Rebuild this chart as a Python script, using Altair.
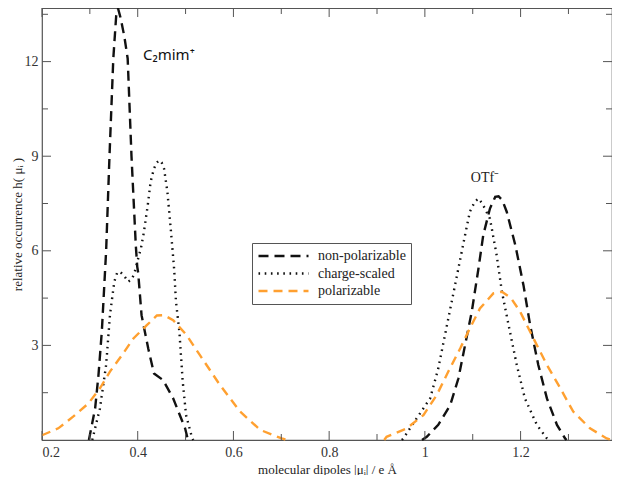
import altair as alt
import pandas as pd

# ---------------- data ----------------
series_names = ["non-polarizable", "charge-scaled", "polarizable"]

np_left_x = [0.298, 0.311, 0.318, 0.325, 0.334, 0.341, 0.349, 0.355, 0.359, 0.364, 0.372, 0.379,
             0.387, 0.396, 0.399, 0.401, 0.408, 0.422, 0.434, 0.453, 0.474, 0.499, 0.505]
np_left_y = [0.0, 1.0, 2.06, 3.44, 6.0, 9.0, 12.1, 13.45, 13.68, 13.4, 12.8, 12.1,
             9.0, 6.17, 5.5, 5.3, 3.96, 2.9, 2.11, 1.9, 1.32, 0.37, 0.0]
np_right_x = [0.994, 1.004, 1.028, 1.053, 1.070, 1.084, 1.098, 1.112, 1.122, 1.136, 1.147, 1.154,
              1.162, 1.171, 1.189, 1.206, 1.220, 1.237, 1.255, 1.276, 1.293, 1.296]
np_right_y = [0.0, 0.1, 0.48, 1.11, 1.95, 3.01, 4.07, 5.44, 6.5, 7.34, 7.71, 7.73,
              7.6, 7.24, 6.18, 4.91, 3.64, 2.38, 1.32, 0.48, 0.05, 0.0]

cs_left_x = [0.305, 0.321, 0.334, 0.342, 0.351, 0.357, 0.363, 0.372, 0.380, 0.388, 0.394, 0.400,
             0.407, 0.413, 0.421, 0.427, 0.434, 0.440, 0.445, 0.450, 0.455, 0.462, 0.469, 0.476,
             0.480, 0.487, 0.494, 0.501, 0.513, 0.516]
cs_left_y = [0.0, 1.0, 2.38, 3.96, 5.02, 5.3, 5.34, 5.2, 5.02, 5.1, 5.34, 5.7,
             6.1, 6.6, 7.45, 8.19, 8.61, 8.8, 8.87, 8.8, 8.61, 7.87, 6.7, 5.44,
             4.38, 3.44, 1.86, 0.79, 0.1, 0.0]
cs_right_x = [0.952, 0.955, 0.983, 1.011, 1.028, 1.042, 1.056, 1.070, 1.084, 1.094, 1.104, 1.112,
              1.120, 1.136, 1.150, 1.161, 1.175, 1.192, 1.209, 1.234, 1.255, 1.258]
cs_right_y = [0.0, 0.05, 0.69, 1.32, 2.27, 3.33, 4.38, 5.44, 6.5, 7.24, 7.55, 7.66,
              7.5, 7.02, 5.86, 4.70, 3.64, 2.38, 1.32, 0.48, 0.05, 0.0]

pol_left_x = [0.2, 0.234, 0.265, 0.297, 0.321, 0.342, 0.367, 0.391, 0.419, 0.440, 0.455, 0.474,
              0.502, 0.530, 0.572, 0.614, 0.656, 0.701, 0.712]
pol_left_y = [0.15, 0.37, 0.74, 1.16, 1.64, 2.17, 2.69, 3.22, 3.64, 3.95, 3.96, 3.80,
              3.33, 2.69, 1.74, 0.90, 0.32, 0.05, 0.0]
pol_right_x = [0.915, 0.92, 0.962, 0.997, 1.025, 1.049, 1.074, 1.094, 1.115, 1.143, 1.161, 1.18,
               1.199, 1.227, 1.255, 1.283, 1.310, 1.345, 1.380, 1.39]
pol_right_y = [0.0, 0.1, 0.37, 0.79, 1.43, 2.17, 2.91, 3.54, 4.17, 4.65, 4.70, 4.5,
               4.07, 3.22, 2.38, 1.64, 0.90, 0.37, 0.05, 0.0]

x_major = [0.2, 0.4, 0.6, 0.8, 1.0, 1.2]
x_minor = [0.3, 0.5, 0.7, 0.9, 1.1, 1.3]
y_major = [3, 6, 9, 12]
y_minor = [1.5, 4.5, 7.5, 10.5, 13.5]

ann1_text = ["C₂mim⁺"]
ann1_x = [0.411]
ann1_y = [12.2]
ann2_text = ["OTf⁻"]
ann2_x = [1.096]
ann2_y = [8.3]

# ---------------- build table ----------------
rows = []
segs = [
    ("non-polarizable", "np_l", np_left_x, np_left_y),
    ("non-polarizable", "np_r", np_right_x, np_right_y),
    ("charge-scaled", "cs_l", cs_left_x, cs_left_y),
    ("charge-scaled", "cs_r", cs_right_x, cs_right_y),
    ("polarizable", "pol_l", pol_left_x, pol_left_y),
    ("polarizable", "pol_r", pol_right_x, pol_right_y),
]
for name, seg, xs_, ys_ in segs:
    for i, (xv, yv) in enumerate(zip(xs_, ys_)):
        rows.append({"series": name, "seg": seg, "x": xv, "y": yv, "i": i})
df = pd.DataFrame(rows)

W, H = 570, 432
XDOM = [0.2, 1.391]
YDOM = [0, 13.7]
FRAME = "#555555"
SERIF = "Liberation Serif"

xs = alt.Scale(domain=XDOM, nice=False, zero=False)
ys = alt.Scale(domain=YDOM, nice=False, zero=False)
x_axis = alt.Axis(values=x_major, title="molecular dipoles |μᵢ| / e Å",
                  labelExpr="datum.value == 1 ? '1' : format(datum.value, '.1f')")
y_axis = alt.Axis(values=y_major, format="d", title="relative occurrence  h( μᵢ )")

lines = alt.Chart(df).mark_line(strokeWidth=2.4, interpolate="linear").encode(
    x=alt.X("x:Q", scale=xs, axis=x_axis),
    y=alt.Y("y:Q", scale=ys, axis=y_axis),
    color=alt.Color("series:N", scale=alt.Scale(domain=series_names,
                                                range=["#111111", "#111111", "#FFA030"]),
                    legend=alt.Legend(title=None)),
    strokeDash=alt.StrokeDash("series:N", scale=alt.Scale(domain=series_names,
                                                          range=[[10, 6], [1.6, 4.6], [9, 6]]),
                              legend=alt.Legend(title=None)),
    detail="seg:N",
    order="i:Q",
)


def tick_df(vals):
    return pd.DataFrame({"x": vals, "y": vals})


def xticks(vals, y0, y1):
    return alt.Chart(tick_df(vals)).mark_rule(color=FRAME, strokeWidth=1).encode(
        x=alt.X("x:Q", scale=xs, axis=x_axis), y=alt.value(y0), y2=alt.value(y1))


def yticks(vals, x0, x1):
    return alt.Chart(tick_df(vals)).mark_rule(color=FRAME, strokeWidth=1).encode(
        y=alt.Y("y:Q", scale=ys, axis=y_axis), x=alt.value(x0), x2=alt.value(x1))


tick_layers = [
    xticks(x_major, H, H - 9), xticks(x_minor, H, H - 6),
    xticks(x_major, 0, 9), xticks(x_minor, 0, 6),
    yticks(y_major, 0, 9), yticks(y_minor, 0, 6),
    yticks(y_major, W, W - 9), yticks(y_minor, W, W - 6),
]

ann1 = alt.Chart(pd.DataFrame({"t": ann1_text, "x": ann1_x, "y": ann1_y})).mark_text(
    font="Noto Sans", fontSize=15, align="left", baseline="middle", color="#111111").encode(
    x=alt.X("x:Q", scale=xs, axis=x_axis), y=alt.Y("y:Q", scale=ys, axis=y_axis), text="t:N")
ann2 = alt.Chart(pd.DataFrame({"t": ann2_text, "x": ann2_x, "y": ann2_y})).mark_text(
    font=SERIF, fontSize=14, align="left", baseline="middle", color="#222222").encode(
    x=alt.X("x:Q", scale=xs, axis=x_axis), y=alt.Y("y:Q", scale=ys, axis=y_axis), text="t:N")

chart = alt.layer(
    lines, *tick_layers, ann1, ann2
).properties(
    width=W, height=H,
    autosize=alt.AutoSizeParams(type="none"),
    padding={"left": 34, "top": 0, "right": 0, "bottom": 35},
).configure_view(
    stroke=FRAME, strokeWidth=1.2
).configure_axis(
    grid=False, ticks=False, domain=False,
    labelFont=SERIF, labelFontSize=14, labelColor="#333333",
    titleFont=SERIF, titleFontSize=13, titleColor="#222222", titleFontWeight="normal",
).configure_axisX(
    labelPadding=5, titlePadding=4,
).configure_axisY(
    labelPadding=4, titlePadding=0,
).configure_legend(
    orient="none", legendX=210, legendY=235,
    padding=5, strokeColor=FRAME, fillColor="white",
    symbolType="stroke", symbolSize=2500, symbolStrokeWidth=2.3,
    labelFont=SERIF, labelFontSize=14, labelColor="#222222", labelOffset=8,
    clipHeight=16, rowPadding=1.5,
)

chart.save("out.html", embed_options={"renderer": "svg", "actions": False})
